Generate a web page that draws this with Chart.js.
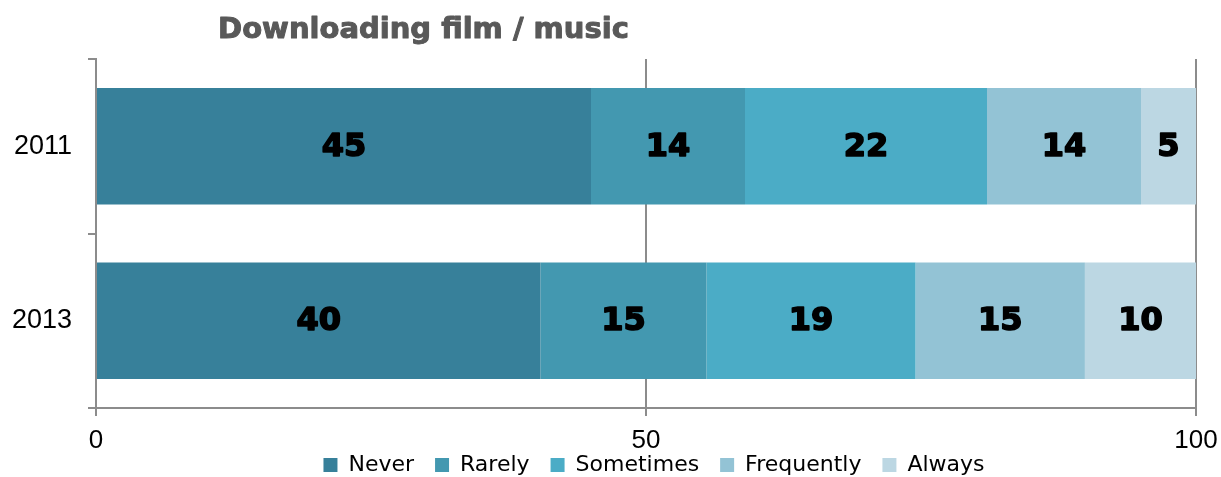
<!DOCTYPE html>
<html>
<head>
<meta charset="utf-8">
<script src="https://cdn.jsdelivr.net/npm/chart.js@4"></script>
<style>
  html, body { margin: 0; padding: 0; background: #fff; }
  #wrap { width: 1221px; height: 477px; position: relative; }
</style>
</head>
<body>
<div id="wrap"><canvas id="c" width="1221" height="477"></canvas></div>
<script>
const titleText = 'Downloading film / music';
const categories = ['2011', '2013'];
const seriesNames = ['Never', 'Rarely', 'Sometimes', 'Frequently', 'Always'];
const never = [45, 40.4];
const rarely = [14, 15.1];
const sometimes = [22, 19.0];
const frequently = [14, 15.4];
const always = [5, 10.1];
const xTicks = [0, 50, 100];
const colors = ['#37809A', '#4398B0', '#4BACC6', '#93C3D5', '#BCD7E3'];

const seriesValues = [never, rarely, sometimes, frequently, always];
const gridColor = '#8c8c8c';

const layoutFix = {
  id: 'layoutFix',
  afterLayout(chart) {
    // let the x tick labels extend below the (shortened) axis box
    chart.scales.x.bottom = chart.height;
    // nudge legend to the right to match reference
    if (chart.legend) { chart.legend.left += 8; chart.legend.right += 8; }
  }
};

const titlePlugin = {
  id: 'customTitle',
  afterDraw(chart) {
    const ctx = chart.ctx;
    ctx.save();
    ctx.font = 'bold 29px "DejaVu Sans"';
    ctx.fillStyle = '#595959';
    ctx.strokeStyle = '#595959';
    ctx.lineWidth = 1;
    ctx.lineJoin = 'round';
    ctx.textAlign = 'center';
    ctx.textBaseline = 'alphabetic';
    const x = chart.chartArea.left + 327.5;
    ctx.fillText(titleText, x, 38);
    ctx.strokeText(titleText, x, 38);
    ctx.restore();
  }
};

const valueLabels = {
  id: 'valueLabels',
  afterDatasetsDraw(chart) {
    const ctx = chart.ctx;
    ctx.save();
    ctx.font = 'bold 32px "DejaVu Sans"';
    ctx.fillStyle = '#000';
    ctx.strokeStyle = '#000';
    ctx.lineWidth = 1.6;
    ctx.lineJoin = 'round';
    ctx.textAlign = 'center';
    ctx.textBaseline = 'middle';
    chart.data.datasets.forEach((ds, di) => {
      const meta = chart.getDatasetMeta(di);
      meta.data.forEach((el, i) => {
        const p = el.getCenterPoint();
        const t = String(Math.round(ds.data[i]));
        ctx.fillText(t, p.x, p.y + 1);
        ctx.strokeText(t, p.x, p.y + 1);
      });
    });
    ctx.restore();
  }
};

new Chart(document.getElementById('c'), {
  type: 'bar',
  data: {
    labels: categories,
    datasets: seriesNames.map((name, i) => ({
      label: name,
      data: seriesValues[i],
      backgroundColor: colors[i],
      borderWidth: 0,
      categoryPercentage: 1,
      barPercentage: 0.667
    }))
  },
  options: {
    indexAxis: 'y',
    responsive: false,
    animation: false,
    layout: { padding: { top: 59, left: 0, right: 25, bottom: -9 } },
    scales: {
      x: {
        stacked: true,
        min: 0,
        max: 100,
        afterBuildTicks(scale) { scale.ticks = xTicks.map(v => ({ value: v })); },
        afterFit(scale) { scale.height = 25; scale.paddingLeft = 0; scale.paddingRight = 0; },
        grid: { color: gridColor, lineWidth: 2, tickLength: 8, drawOnChartArea: true },
        border: { display: true, color: gridColor, width: 2 },
        ticks: {
          font: { family: '"Liberation Sans"', size: 26, lineHeight: 1 },
          color: '#000',
          padding: 12,
          maxRotation: 0
        }
      },
      y: {
        stacked: true,
        afterFit(scale) { scale.width = 96; scale.paddingTop = 0; scale.paddingBottom = 0; },
        grid: { color: gridColor, lineWidth: 2, tickLength: 8, drawOnChartArea: false, offset: true },
        border: { display: true, color: gridColor, width: 2 },
        ticks: {
          font: { family: '"Liberation Sans"', size: 27 },
          color: '#000',
          padding: 16
        }
      }
    },
    plugins: {
      legend: {
        position: 'bottom',
        fullSize: false,
        labels: {
          boxWidth: 14,
          boxHeight: 14,
          padding: 21,
          color: '#000',
          font: { family: '"DejaVu Sans"', size: 22 }
        }
      },
      title: { display: false },
      tooltip: { enabled: false }
    }
  },
  plugins: [layoutFix, titlePlugin, valueLabels]
});
</script>
</body>
</html>
